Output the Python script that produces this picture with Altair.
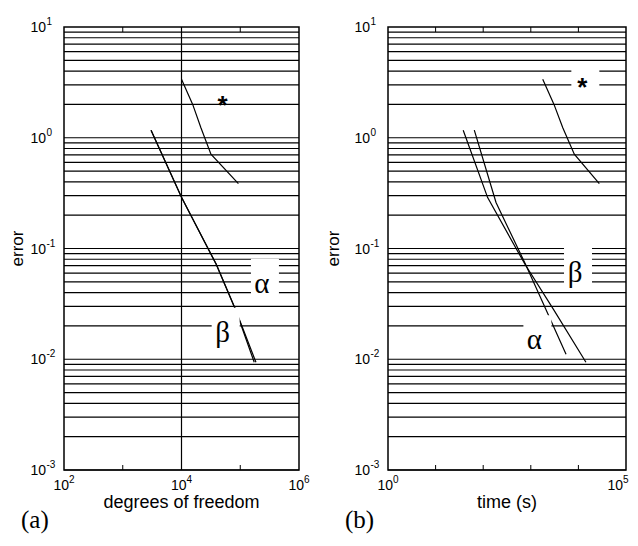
import altair as alt
import pandas as pd

# ---------------- data ----------------
# panel (a): error vs degrees of freedom
dof_star = [1.0e4, 1.55e4, 2.14e4, 3.17e4, 9.3e4]
err_star_a = [3.37, 2.0, 1.23, 0.71, 0.385]
dof_alpha = [3.03e3, 1.0e4, 3.9e4, 8.5e4, 1.85e5]
err_alpha_a = [1.17, 0.29, 0.072, 0.0273, 0.0094]
dof_beta = [3.03e3, 1.0e4, 3.9e4, 8.5e4, 1.73e5]
err_beta_a = [1.17, 0.29, 0.072, 0.0273, 0.0094]

# panel (b): error vs time (s)
time_star = [1.78e3, 3.07e3, 4.7e3, 8.2e3, 2.75e4]
err_star_b = [3.37, 2.0, 1.23, 0.71, 0.385]
time_beta = [38, 124, 755, 3.04e3, 1.44e4]
err_beta_b = [1.17, 0.288, 0.072, 0.0279, 0.0094]
time_alpha = [65, 186, 774, 2.09e3, 5.5e3]
err_alpha_b = [1.17, 0.26, 0.072, 0.028, 0.0111]

# curve labels (anchor = glyph centre / baseline, data units)
greek_a = ["α", "β"]
greek_x_a = [2.34e5, 5.02e4]
greek_y_a = [0.0399, 0.01439]
star_x_a = [5.02e4]
star_y_a = [1.638]

greek_b = ["β", "α"]
greek_x_b = [8.49e3, 1.19e3]
greek_y_b = [0.0498, 0.0123]
star_x_b = [1.21e4]
star_y_b = [2.36]

# axes
y_ticks = [1e-3, 1e-2, 1e-1, 1e0, 1e1]
y_exps = ["-3", "-2", "-1", "0", "1"]
grid_y = [k * 10.0 ** e for e in range(-3, 1) for k in range(1, 10)]
xa_ticks = [1e2, 1e4, 1e6]
xa_exps = ["2", "4", "6"]
xa_minor = [1e3, 1e4, 1e5]
xa_grid = [1e4]
xb_ticks = [1e0, 1e5]
xb_exps = ["0", "5"]
xb_minor = [1e1, 1e2, 1e3, 1e4]

H = 443
SANS = "Liberation Sans"
SERIF = "Liberation Serif"
BOX = "M-14,-20L14,-20L14,20L-14,20Z"


def series_df(pairs):
    rows = []
    for name, xs, ys in pairs:
        for i, (x, y) in enumerate(zip(xs, ys)):
            rows.append({"series": name, "x": x, "y": y, "o": i})
    return pd.DataFrame(rows)


def panel(W, xdom, lines, greek, gx, gy, sx, sy, star_box, xticks, xexps,
          xminor, xgrid, xtitle, tag, ytitle_x, anchor, last_dx):
    xs = alt.Scale(type="log", domain=xdom)
    ys = alt.Scale(type="log", domain=[1e-3, 1e1])
    X = lambda: alt.X("x:Q", scale=xs, axis=None)
    Y = lambda: alt.Y("y:Q", scale=ys, axis=None)

    layers = []
    # horizontal grid
    layers.append(alt.Chart(pd.DataFrame({"y": grid_y})).mark_rule(color="black", strokeWidth=1.2)
                  .encode(y=Y(), x=alt.value(0), x2=alt.value(W)))
    # vertical grid
    if xgrid:
        layers.append(alt.Chart(pd.DataFrame({"x": xgrid})).mark_rule(color="black", strokeWidth=1.2)
                      .encode(x=X(), y=alt.value(0), y2=alt.value(H)))
    # minor x ticks top / bottom
    mdf = pd.DataFrame({"x": xminor})
    layers.append(alt.Chart(mdf).mark_rule(color="black", strokeWidth=1)
                  .encode(x=X(), y=alt.value(0), y2=alt.value(5)))
    layers.append(alt.Chart(mdf).mark_rule(color="black", strokeWidth=1)
                  .encode(x=X(), y=alt.value(H), y2=alt.value(H - 5)))
    # data lines
    layers.append(alt.Chart(series_df(lines)).mark_line(color="black", strokeWidth=1.2)
                  .encode(x=X(), y=Y(), detail="series:N", order="o:Q"))
    # white label boxes
    gdf = pd.DataFrame({"t": greek, "x": gx, "y": gy})
    sdf = pd.DataFrame({"t": ["*"] * len(sx), "x": sx, "y": sy})
    layers.append(alt.Chart(gdf).mark_point(shape=BOX, size=4, filled=True, color="white",
                                            opacity=1, strokeWidth=0, xOffset=3, yOffset=-14)
                  .encode(x=X(), y=Y()))
    if star_box:
        layers.append(alt.Chart(sdf).mark_point(shape=BOX, size=4, filled=True, color="white",
                                                opacity=1, strokeWidth=0, xOffset=3, yOffset=-14)
                      .encode(x=X(), y=Y()))
    # label glyphs
    layers.append(alt.Chart(gdf).mark_text(font=SERIF, fontSize=29, align="center",
                                           baseline="alphabetic", color="black")
                  .encode(x=X(), y=Y(), text="t:N"))
    layers.append(alt.Chart(sdf).mark_text(font=SANS, fontSize=26, fontWeight="bold",
                                           align="center", baseline="alphabetic", color="black")
                  .encode(x=X(), y=Y(), text="t:N"))
    # y tick labels
    ydf = pd.DataFrame({"y": y_ticks, "e": y_exps})
    layers.append(alt.Chart(ydf).mark_text(text="10", font=SANS, fontSize=14, align="left",
                                           baseline="alphabetic", dy=5, color="black")
                  .encode(y=Y(), x=alt.value(-33.5)))
    layers.append(alt.Chart(ydf).mark_text(font=SANS, fontSize=10, align="left",
                                           baseline="alphabetic", dy=-2, color="black")
                  .encode(y=Y(), x=alt.value(-17.5), text="e:N"))
    # x tick labels (the last one may be nudged inward to stay on the page)
    xdf = pd.DataFrame({"x": xticks, "e": xexps})
    parts = [(xdf.iloc[:-1], 5), (xdf.iloc[-1:], 5 - last_dx)]
    for part, dxx in parts:
        layers.append(alt.Chart(part).mark_text(text="10", font=SANS, fontSize=14, align="right",
                                                baseline="alphabetic", dx=dxx, color="black")
                      .encode(x=X(), y=alt.value(H + 20)))
        layers.append(alt.Chart(part).mark_text(font=SANS, fontSize=10, align="left",
                                                baseline="alphabetic", dx=dxx, color="black")
                      .encode(x=X(), y=alt.value(H + 13), text="e:N"))
    # axis titles and panel tag
    layers.append(alt.Chart(pd.DataFrame({"t": ["error"]})).mark_text(
        font=SANS, fontSize=17, angle=270, align="center", baseline="middle", color="black")
        .encode(x=alt.value(ytitle_x), y=alt.value(H / 2), text="t:N"))
    layers.append(alt.Chart(pd.DataFrame({"t": [xtitle]})).mark_text(
        font=SANS, fontSize=18, align="center", baseline="alphabetic", color="black")
        .encode(x=alt.value(W / 2), y=alt.value(H + 38), text="t:N"))
    layers.append(alt.Chart(pd.DataFrame({"t": [tag]})).mark_text(
        font=SERIF, fontSize=25, align="left", baseline="alphabetic", color="black")
        .encode(x=alt.value(-43), y=alt.value(H + 58), text="t:N"))
    if anchor:
        layers.append(alt.Chart(pd.DataFrame({"a": [0]})).mark_rule(strokeOpacity=0, opacity=0)
                      .encode(x=alt.value(-55), x2=alt.value(0), y=alt.value(-18), y2=alt.value(-18)))
    return alt.layer(*layers).properties(width=W, height=H)


left = panel(235, [1e2, 1e6],
             [("star", dof_star, err_star_a), ("alpha", dof_alpha, err_alpha_a),
              ("beta", dof_beta, err_beta_a)],
             greek_a, greek_x_a, greek_y_a, star_x_a, star_y_a, False,
             xa_ticks, xa_exps, xa_minor, xa_grid, "degrees of freedom", "(a)", -46, True, 0)
right = panel(238, [1e0, 1e5],
              [("star", time_star, err_star_b), ("alpha", time_alpha, err_alpha_b),
               ("beta", time_beta, err_beta_b)],
              greek_b, greek_x_b, greek_y_b, star_x_b, star_y_b, True,
              xb_ticks, xb_exps, xb_minor, [], "time (s)", "(b)", -54, False, 8)

chart = (alt.hconcat(left, right, spacing=89, bounds="flush")
         .properties(padding=0)
         .configure_view(stroke="black", strokeWidth=1.5))

chart.save("out.html", embed_options={"renderer": "svg", "actions": False})
